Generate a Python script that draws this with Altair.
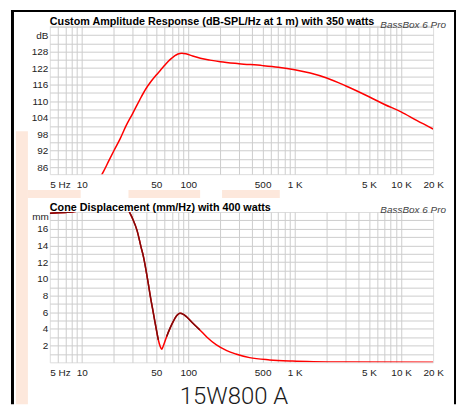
import altair as alt
import pandas as pd

# ---------------- data ----------------
spl_freq = [14, 16, 18, 20, 23, 26, 30, 35, 40, 45, 50, 55, 60, 65, 70, 75, 80, 87, 95, 110,
            130, 160, 200, 300, 500, 700, 1000, 1400, 2000, 3000, 5000, 7000, 10000, 14000, 20000]
spl_db = [80.5, 84.5, 88.5, 92.0, 96.5, 101.0, 105.5, 110.5, 114.5, 117.3, 119.5, 121.3, 123.0,
          124.5, 125.6, 126.5, 127.1, 127.4, 127.2, 126.4, 125.6, 124.9, 124.3, 123.6, 122.9,
          122.3, 121.4, 120.2, 118.4, 115.6, 111.6, 108.8, 106.1, 103.0, 99.9]

disp_freq = [5, 6, 7, 8, 9, 10, 12, 15, 20, 25, 28, 30, 33, 36, 38, 40, 42, 45, 47, 50, 52.3,
             54.5, 56.3, 58, 62.7, 67, 72.3, 78, 83.5, 90, 96.4, 110, 128.5, 150, 184, 230, 280,
             377, 581, 952, 1500, 3000, 20000]
disp_mm = [17.85, 17.9, 17.95, 18.0, 18.1, 18.3, 19.0, 20.0, 21.0, 19.5, 18.0, 17.2, 15.8, 13.8,
           12.6, 11.1, 9.5, 7.2, 5.9, 4.0, 2.7, 1.9, 1.55, 1.9, 3.1, 4.0, 4.9, 5.6, 5.88, 5.75,
           5.45, 4.7, 3.88, 3.0, 2.08, 1.4, 1.0, 0.56, 0.29, 0.15, 0.08, 0.04, 0.02]

grid_freqs = [5, 6, 7, 8, 9, 10, 20, 30, 40, 50, 60, 70, 80, 90, 100, 200, 300, 400, 500, 600,
              700, 800, 900, 1000, 2000, 3000, 4000, 5000, 6000, 7000, 8000, 9000, 10000, 20000]
label_freqs = [5, 10, 50, 100, 500, 1000, 5000, 10000, 20000]
label_texts = ["5 Hz", "10", "50", "100", "500", "1 K", "5 K", "10 K", "20 K"]

spl_ticks = list(range(86, 138, 3))
spl_labels = list(range(86, 129, 6))
disp_ticks = list(range(1, 18))
disp_labels = list(range(2, 17, 2))

title_top = "Custom Amplitude Response (dB-SPL/Hz at 1 m) with 350 watts"
title_bot = "Cone Displacement (mm/Hz) with 400 watts"
brand = "BassBox 6 Pro"
model = "15W800 A"

# ---------------- styling ----------------
W = 385
H_TOP = 149
H_BOT = 151
FONT = "Liberation Sans"
GRID = "#cdcdcd"
PEACH = "#fde8dc"

expr = "''"
for v, t in reversed(list(zip(label_freqs, label_texts))):
    expr = f"datum.value == {v} ? '{t}' : ({expr})"

xscale = alt.Scale(type="log", domain=[5, 20000], nice=False)


def x_axis():
    return alt.Axis(values=grid_freqs, labelExpr=expr, title=None, ticks=False, domain=False,
                    grid=True, gridColor=GRID, gridWidth=1,
                    gridOpacity={"condition": {"test": "datum.value == 5 || datum.value == 20000",
                                               "value": 0}, "value": 1},
                    labelFont=FONT, labelFontSize=10, labelColor="#222", labelPadding=5,
                    labelOverlap=False, labelBound=False,
                    labelAlign={"condition": {"test": "datum.value == 5", "value": "left"},
                                "value": "center"})


lab_top = ",".join(str(v) for v in spl_labels)
y_axis_top = alt.Axis(values=spl_ticks, title=None, ticks=False, domain=False, grid=True,
                      gridColor=GRID, gridWidth=1,
                      labelExpr=f"datum.value == 134 ? 'dB' : (indexof([{lab_top}], datum.value) >= 0 ? datum.label : '')",
                      labelFont=FONT, labelFontSize=10, labelColor="#222", labelPadding=2,
                      labelOverlap=False, labelBound=False)
lab_bot = ",".join(str(v) for v in disp_labels)
y_axis_bot = alt.Axis(values=disp_ticks, title=None, ticks=False, domain=False, grid=True,
                      gridColor=GRID, gridWidth=1,
                      labelExpr=f"indexof([{lab_bot}], datum.value) >= 0 ? datum.label : ''",
                      labelFont=FONT, labelFontSize=10, labelColor="#222", labelPadding=2,
                      labelOverlap=False, labelBound=False)

one = pd.DataFrame({"k": [0]})


def rect(x1, x2, y1, y2, color, opacity=1.0):
    return alt.Chart(one).mark_rect(color=color, opacity=opacity).encode(
        x=alt.value(x1), x2=alt.value(x2), y=alt.value(y1), y2=alt.value(y2))


def text(t, x, y, font=FONT, **kw):
    return alt.Chart(one).mark_text(text=t, font=font, **kw).encode(x=alt.value(x), y=alt.value(y))


# decorations (relative to top plot origin)
deco = [
    rect(-41, 408, -16, 380, "#ffffff", 0),       # bounds
    rect(-34, -22, 106, 380, PEACH),
    rect(-22, 31, 165, 173, PEACH),
    rect(79, 151, 165, 173, PEACH),
    rect(173, 231, 165, 173, PEACH),
    rect(-39, -36, -16, 380, "#000000"),
    rect(-39, 408, -16, -14, "#000000"),
    rect(406, 408, -16, 380, "#000000"),
]

spl_df = pd.DataFrame({"f": spl_freq, "db": spl_db})
disp_df = pd.DataFrame({"f": disp_freq, "mm": disp_mm})

spl_line = alt.Chart(spl_df).mark_line(color="#ff0000", strokeWidth=1.5, clip=True,
                                       interpolate="monotone").encode(
    x=alt.X("f:Q", scale=xscale, axis=x_axis()),
    y=alt.Y("db:Q", scale=alt.Scale(domain=[83.5, 137.35], nice=False, zero=False), axis=y_axis_top))

top = alt.layer(
    *deco,
    spl_line,
    text(title_top, 0, -3.5, fontSize=10.8, fontWeight="bold", align="left", color="#000"),
    text(brand, 398, -1.3, fontSize=10, fontStyle="italic", align="right", color="#444"),
).properties(width=W, height=H_TOP)

ybot = alt.Scale(domain=[0, 18], nice=False, zero=False)
xa_bot = x_axis()
disp_red = alt.Chart(disp_df).mark_line(color="#ff0000", strokeWidth=1.5, clip=True,
                                        interpolate="monotone").encode(
    x=alt.X("f:Q", scale=xscale, axis=xa_bot),
    y=alt.Y("mm:Q", scale=ybot, axis=y_axis_bot))
disp_dark = alt.Chart(disp_df).transform_filter(
    "datum.f < 140 && datum.mm > 2.3").transform_calculate(
    seg="datum.f < 56 ? 'a' : 'b'").mark_line(
    color="#7d0a0a", strokeWidth=1.5, clip=True, interpolate="monotone").encode(
    x=alt.X("f:Q", scale=xscale, axis=xa_bot),
    y=alt.Y("mm:Q", scale=ybot, axis=y_axis_bot),
    detail="seg:N")

bottom = alt.layer(
    disp_red,
    disp_dark,
    text(title_bot, 0, -3.7, fontSize=10.8, fontWeight="bold", align="left", color="#000"),
    text(brand, 398, -1.7, fontSize=10, fontStyle="italic", align="right", color="#444"),
    text("mm", -1, 5, fontSize=10, align="right", baseline="middle", color="#222"),
    text(model, 185, 186, font="Roboto", fontSize=24, fontWeight=300, align="center",
         color="#1a1a1a"),
).properties(width=W, height=H_BOT)

chart = alt.vconcat(top, bottom, spacing=38, bounds="flush", padding=0).configure_view(
    stroke="#000000", strokeWidth=1.5).configure(background="white")

chart.save("out.html", embed_options={"renderer": "svg", "actions": False})
